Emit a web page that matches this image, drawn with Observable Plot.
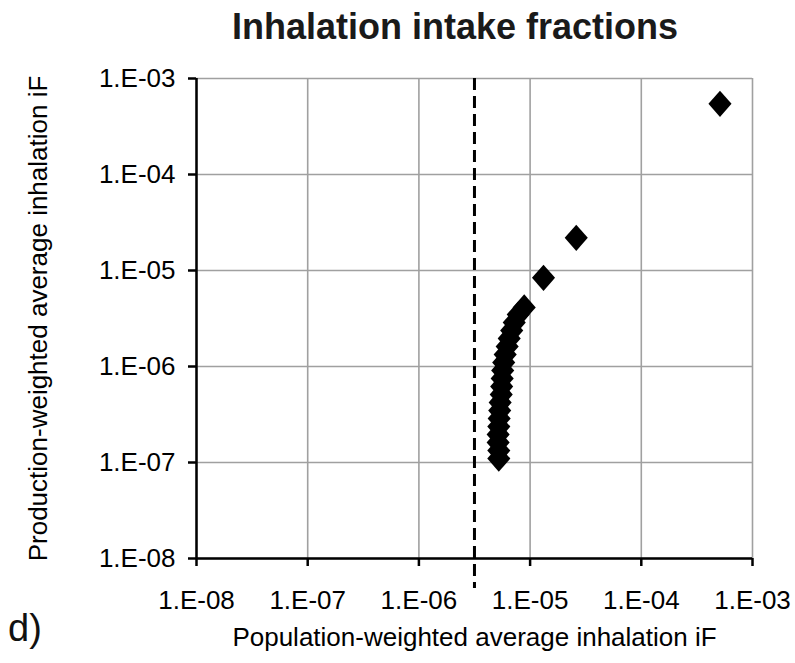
<!DOCTYPE html>
<html>
<head>
<meta charset="utf-8">
<script src="https://cdn.jsdelivr.net/npm/d3@7"></script>
<script src="https://cdn.jsdelivr.net/npm/@observablehq/plot@0.6"></script>
<style>
  body { margin: 0; background: #fff; }
  #wrap { position: relative; width: 795px; height: 663px; background: #fff; font-family: "Liberation Sans", Arial, sans-serif; }
  #title { position: absolute; left: 455px; top: 9px; transform: translateX(-50%); white-space: nowrap;
           font-size: 36px; font-weight: bold; color: #1a1a1a; line-height: 1; }
  #panel { position: absolute; left: 8px; top: 609px; font-size: 38px; line-height: 1; color: #111; }
  #chart { position: absolute; left: 0; top: 60px; }
</style>
</head>
<body>
<div id="wrap">
  <div id="title">Inhalation intake fractions</div>
  <div id="chart"></div>
  <div id="panel">d)</div>
</div>
<script>
// Population-weighted average inhalation iF (x)
const popIF = [
  5.23e-6, 5.23e-6, 5.16e-6, 5.16e-6, 5.23e-6, 5.27e-6, 5.33e-6, 5.38e-6, 5.50e-6, 5.55e-6,
  5.61e-6, 5.67e-6, 5.79e-6, 5.97e-6, 6.22e-6, 6.49e-6, 6.83e-6, 7.20e-6, 7.82e-6, 8.85e-6,
  1.32e-5, 2.60e-5, 5.10e-4
];
// Production-weighted average inhalation iF (y)
const prodIF = [
  1.10e-7, 1.33e-7, 1.62e-7, 1.96e-7, 2.37e-7, 2.87e-7, 3.48e-7, 4.22e-7, 5.11e-7, 6.19e-7,
  7.50e-7, 9.09e-7, 1.10e-6, 1.33e-6, 1.62e-6, 1.96e-6, 2.37e-6, 2.87e-6, 3.48e-6, 4.12e-6,
  8.39e-6, 2.19e-5, 5.45e-4
];
const xTicks = [1e-8, 1e-7, 1e-6, 1e-5, 1e-4, 1e-3];
const yTicks = [1e-8, 1e-7, 1e-6, 1e-5, 1e-4, 1e-3];
const threshold = [3.16e-6];

const fmt = d => {
  const e = Math.round(Math.log10(d));
  return "1.E" + (e < 0 ? "-" : "+") + String(Math.abs(e)).padStart(2, "0");
};

const points = popIF.map((x, i) => ({x, y: prodIF[i]}));

const diamond = {
  draw(ctx, size) {
    const r = Math.sqrt(size / Math.PI);
    const w = r * 1.1, h = r * 1.25;
    ctx.moveTo(0, -h); ctx.lineTo(w, 0); ctx.lineTo(0, h); ctx.lineTo(-w, 0); ctx.closePath();
  }
};

const font = "Liberation Sans, Arial, sans-serif";
const chart = Plot.plot({
  width: 795,
  height: 603,
  marginTop: 18,
  marginBottom: 105,
  marginLeft: 196,
  marginRight: 43,
  style: {fontFamily: font, fontSize: "26px", background: "white", color: "black"},
  x: {type: "log", domain: [xTicks[0], xTicks[xTicks.length - 1]]},
  y: {type: "log", domain: [yTicks[0], yTicks[yTicks.length - 1]]},
  marks: [
    Plot.gridX(xTicks, {stroke: "#a0a0a0", strokeOpacity: 1, strokeWidth: 1.6}),
    Plot.gridY(yTicks, {stroke: "#a0a0a0", strokeOpacity: 1, strokeWidth: 1.6}),
    Plot.ruleX(threshold, {stroke: "black", strokeWidth: 3, strokeDasharray: "12,6", insetBottom: -30}),
    Plot.axisX(xTicks, {tickSize: 8, tickPadding: 24, tickFormat: fmt, fontSize: 26, strokeWidth: 2.5,
      label: "Population-weighted average inhalation iF", labelAnchor: "center", labelArrow: "none", labelOffset: 87}),
    Plot.axisY(yTicks, {tickSize: 8, tickPadding: 13, tickFormat: fmt, fontSize: 26, strokeWidth: 2.5,
      label: "Production-weighted average inhalation iF", labelAnchor: "center", labelArrow: "none", labelOffset: 168}),
    Plot.ruleX([xTicks[0]], {stroke: "black", strokeWidth: 2.5}),
    Plot.ruleY([yTicks[0]], {stroke: "black", strokeWidth: 2.5}),
    Plot.dot(points, {x: "x", y: "y", symbol: diamond, r: 10.5, fill: "black", stroke: "none"})
  ]
});
document.getElementById("chart").appendChild(chart);
</script>
</body>
</html>
